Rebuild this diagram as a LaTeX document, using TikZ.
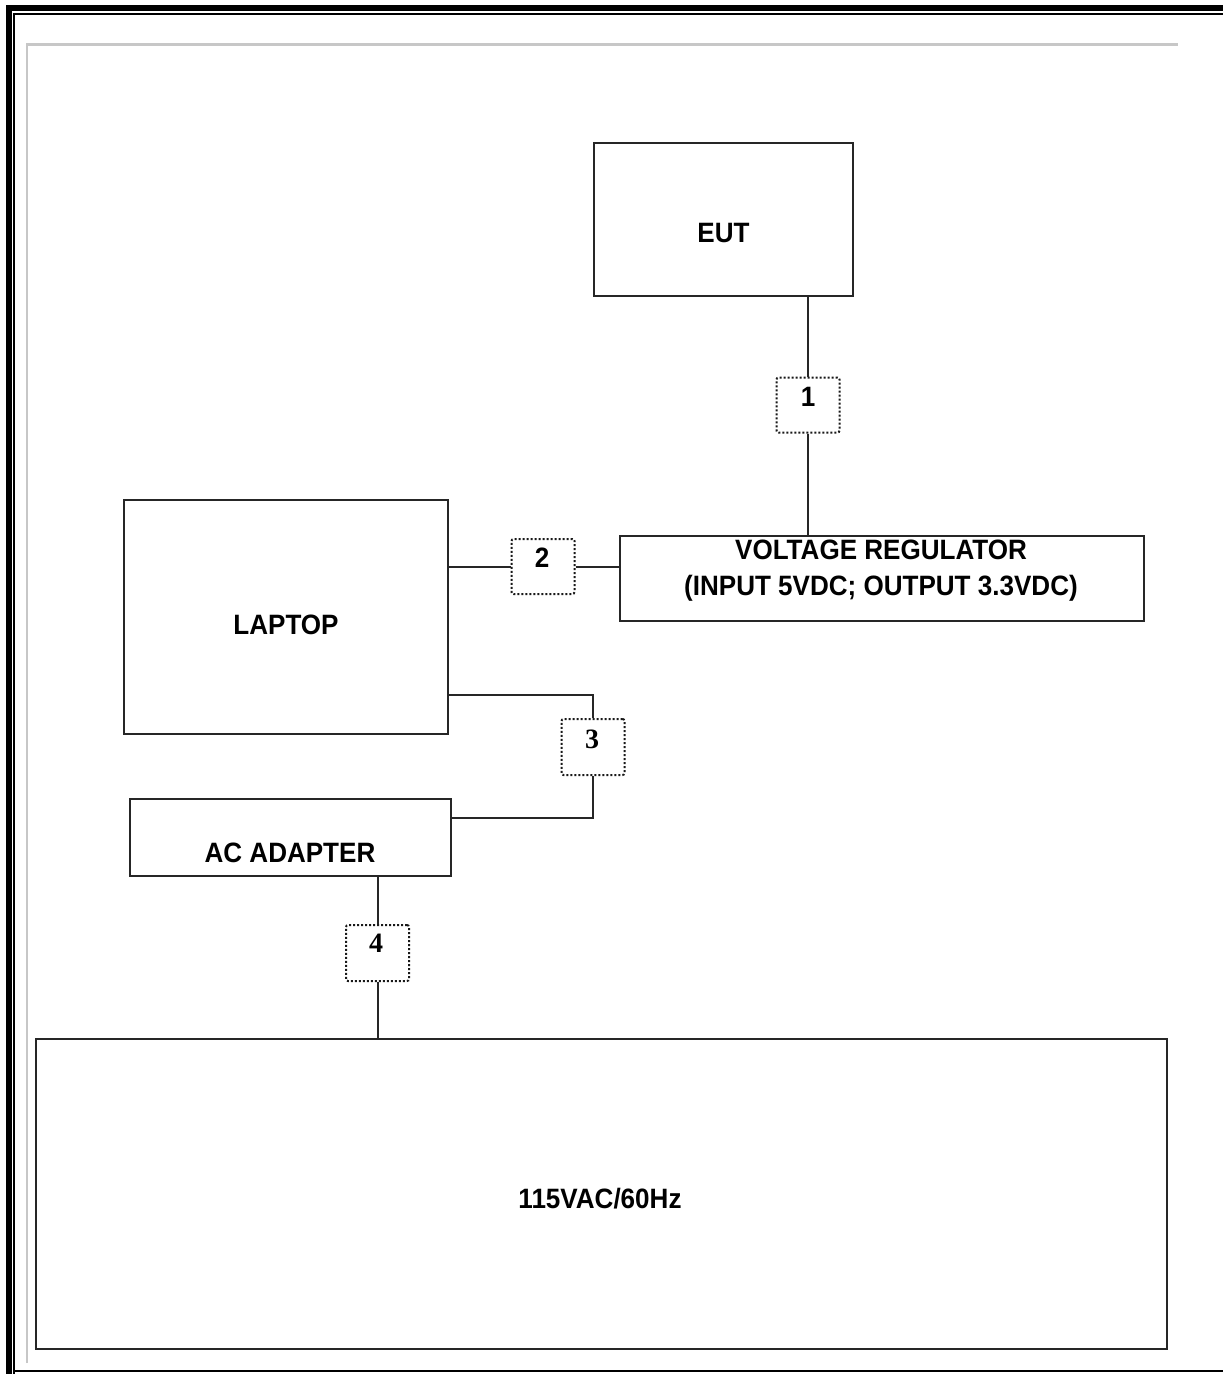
\documentclass[tikz,border=0pt]{standalone}
\usepackage{fontspec}
\setmainfont{Liberation Sans}
\newfontfamily\diagfont[FakeStretch=0.93]{Liberation Sans}
\newfontfamily\numserif{Liberation Serif}
\usetikzlibrary{calc}
\begin{document}
\begin{tikzpicture}[x=1pt,y=-1pt,
  blk/.style={draw=black!85,line width=2pt,minimum width=#1,inner sep=0pt},
  dotbox/.style={draw=black!90,line width=2pt,dotted,rounded corners=2pt,inner sep=0pt,minimum width=63pt,minimum height=55pt},
  lbl/.style={font=\diagfont\fontsize{28}{36}\selectfont\bfseries,inner sep=0pt,align=center},
  num/.style={font=\diagfont\fontsize{28}{30}\selectfont\bfseries,inner sep=0pt},
  numS/.style={font=\numserif\fontsize{28}{30}\selectfont\bfseries,inner sep=0pt},
  wire/.style={draw=black!85,line width=2pt}]
\useasboundingbox (0,0) rectangle (1223,1374);
\fill[white] (0,0) rectangle (1223,1374);
% frame
\draw[line width=6pt] (9,1374) -- (9,8) -- (1223,8);
\draw[line width=2pt] (14,1374) -- (14,14) -- (1223,14);
\draw[line width=2pt] (13,1371) -- (1223,1371);
\draw[black!22,line width=2.5pt] (27,1363) -- (27,44.5) -- (1178,44.5);
% blocks
\node[blk=259pt,minimum height=153pt] (eut) at (723.5,219.5) {};
\node[lbl] (eutT) at (723.5,233) {EUT};
\node[blk=324pt,minimum height=234pt] (lap) at (286,617) {};
\node[lbl] (lapT) at (286,625) {LAPTOP};
\node[blk=524pt,minimum height=85pt] (vr) at (882,578.5) {};
\node[lbl] (vrT) at (881,571) {VOLTAGE REGULATOR\\(INPUT 5VDC; OUTPUT 3.3VDC)};
\node[blk=321pt,minimum height=77pt] (ac) at (290.5,837.5) {};
\node[lbl] (acT) at (290,853) {AC ADAPTER};
\node[blk=1131pt,minimum height=310pt] (mains) at (601.5,1194) {};
\node[lbl] (mainsT) at (600,1199) {115VAC/60Hz};
% cable boxes
\node[dotbox] (c1) at (808,405) {};
\node[num] (c1T) at (808,397) {1};
\node[dotbox] (c2) at (543,566.5) {};
\node[num] (c2T) at (542,558) {2};
\node[dotbox,minimum height=56pt] (c3) at (593,747) {};
\node[numS] (c3T) at (592,739) {3};
\node[dotbox,minimum height=56pt] (c4) at (377.5,953) {};
\node[numS] (c4T) at (376,943) {4};
% connector helper coordinates
\coordinate (l3) at (448,695);
\coordinate (a3) at (451,818);
% connectors
\draw[wire] (c1.north) -- (c1.north |- eut.south);
\draw[wire] (c1.south) -- (c1.south |- vr.north);
\draw[wire] (c2.west) -- (c2.west -| lap.east);
\draw[wire] (c2.east) -- (c2.east -| vr.west);
\draw[wire] (lap.east |- l3) -| (c3.north);
\draw[wire] (c3.south) |- (ac.east |- a3);
\draw[wire] (c4.north) -- (c4.north |- ac.south);
\draw[wire] (c4.south) -- (c4.south |- mains.north);
\end{tikzpicture}
\end{document}
